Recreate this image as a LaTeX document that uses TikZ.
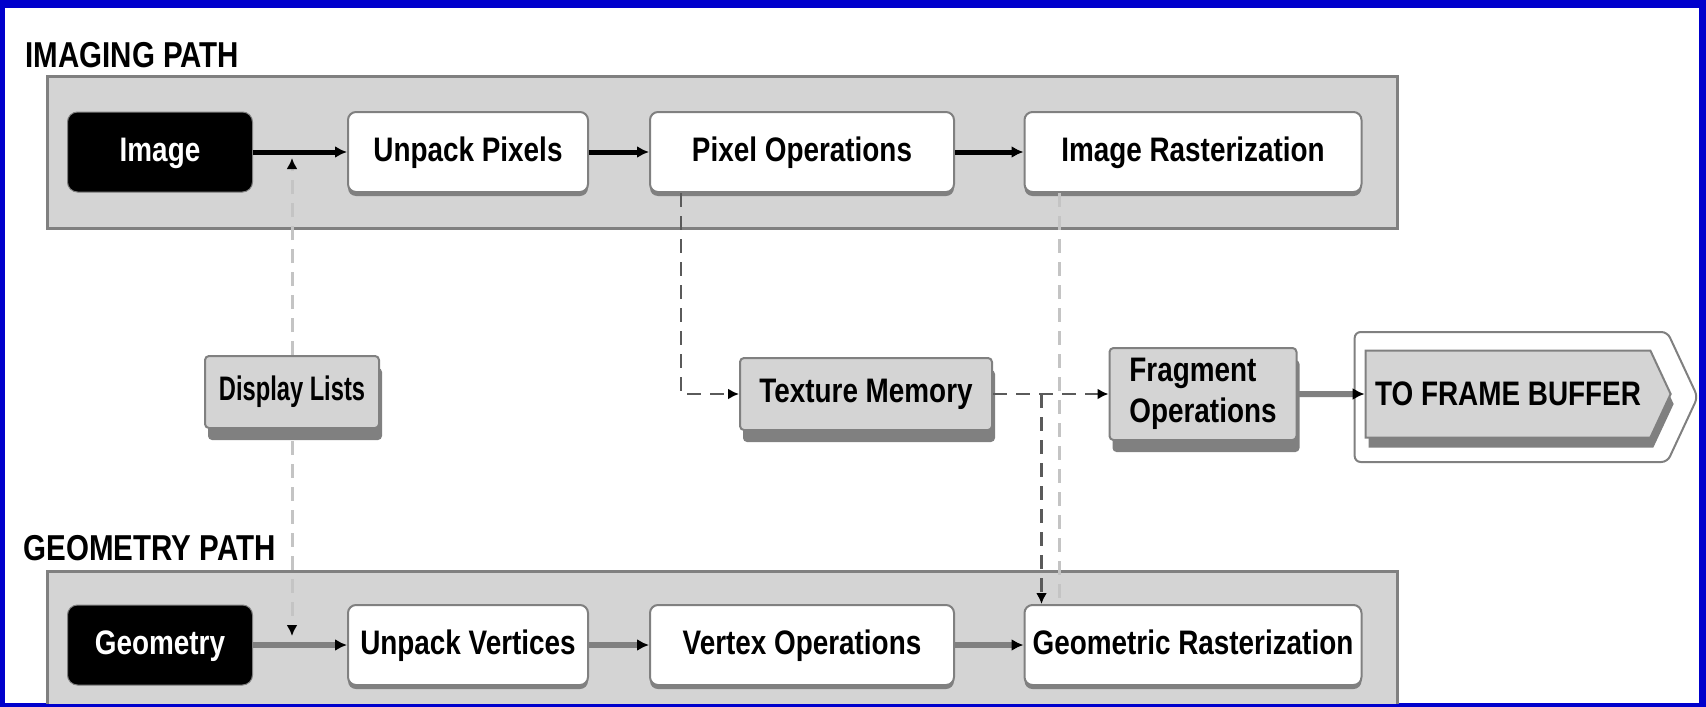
\documentclass[tikz,border=0pt]{standalone}
\usepackage{fontspec}
\setmainfont{Liberation Sans}[FakeStretch=0.82]
\usetikzlibrary{positioning,shapes.symbols,shadows,arrows.meta}
\definecolor{frameblue}{RGB}{0,0,204}
\definecolor{panelgray}{RGB}{212,212,212}
\definecolor{edgegray}{RGB}{128,128,128}
\definecolor{lightdash}{RGB}{196,196,196}
\definecolor{darkdash}{RGB}{90,90,90}
\tikzset{
  every node/.style={font=\fontsize{34}{41}\selectfont\bfseries},
  title/.style={anchor=base west,font=\fontsize{36}{40}\selectfont\bfseries},
  panel/.style={fill=panelgray,draw=edgegray,line width=3pt},
  source/.style={fill=black,text=white,draw=edgegray,line width=1pt,rounded corners=10pt,minimum width=185pt,minimum height=80pt,
    text height=25pt,text depth=7pt},
  stage/.style={fill=white,draw=edgegray,line width=2pt,rounded corners=8pt,minimum height=80pt,inner sep=4pt,
    text height=25pt,text depth=7pt,
    drop shadow={shadow xshift=0pt,shadow yshift=-4pt,fill=edgegray,opacity=1}},
  store/.style={fill=panelgray,draw=edgegray,line width=2pt,rounded corners=4pt,minimum height=72pt,inner sep=4pt,
    drop shadow={shadow xshift=3pt,shadow yshift=-12pt,fill=edgegray,opacity=1}},
  imgflow/.style={line width=5pt,-{Latex[length=12pt,width=12pt]}},
  geoflow/.style={line width=6pt,edgegray,-{Latex[black,length=12pt,width=12pt]}},
  datalink/.style={darkdash,line width=2.5pt,dash pattern=on 14pt off 9pt,-{Latex[black,length=11pt,width=11pt]}},
  listlink/.style={lightdash,line width=3pt,dash pattern=on 14pt off 9pt}
}
\begin{document}
\begin{tikzpicture}[yscale=-1,x=1pt,y=1pt]
\useasboundingbox (0,0) rectangle (1706,707);
\fill[frameblue] (0,0) rectangle (1706,707);
\begin{scope}
\clip (5,8) rectangle (1699,703);
\fill[white] (5,8) rectangle (1699,703);
% panels
\draw[panel] (47,76) rectangle (1397,228);
\draw[panel] (47,571) rectangle (1397,720);
\node[title] (imgtitle) at (22,67) {IMAGING PATH};
\node[title] (geotitle) at (20,560) {GEOMETRY PATH};
% imaging row
\node[source] (img) at (160,152) {Image};
\node[stage,minimum width=240pt] (upix) at (468,152) {Unpack Pixels};
\node[stage,minimum width=304pt] (pixop) at (802,152) {Pixel Operations};
\node[stage,minimum width=337pt] (imrast) at (1193,152) {Image Rasterization};
% geometry row
\node[source] (geo) at (160,645) {Geometry};
\node[stage,minimum width=240pt] (uvert) at (468,645) {Unpack Vertices};
\node[stage,minimum width=304pt] (vertop) at (802,645) {Vertex Operations};
\node[stage,minimum width=337pt] (georast) at (1193,645) {Geometric Rasterization};
% middle row
\node[store,minimum width=174pt] (dlist) at (292,392) {\scalebox{0.85}[1]{Display Lists}};
\node[store,minimum width=252pt] (texmem) at (866,394) {Texture Memory};
\node[store,minimum width=187pt,minimum height=92pt,align=left] (frag) at (1203,394) {Fragment\\Operations};
\node[signal,signal to=east,signal pointer angle=130,fill=white,draw=edgegray,line width=2pt,rounded corners=6pt,
  minimum width=343pt,minimum height=130pt] (fbout) at (1511,397) {};
\node[signal,signal to=east,signal pointer angle=130,fill=panelgray,draw=edgegray,line width=2pt,
  minimum width=305pt,minimum height=87pt,inner sep=4pt,
  drop shadow={shadow xshift=3pt,shadow yshift=-10pt,fill=edgegray,opacity=1}] (fb) at (1508,394) {TO FRAME BUFFER};
% flows
\draw[imgflow] (img) -- (upix);
\draw[imgflow] (upix) -- (pixop);
\draw[imgflow] (pixop) -- (imrast);
\draw[geoflow] (geo) -- (uvert);
\draw[geoflow] (uvert) -- (vertop);
\draw[geoflow] (vertop) -- (georast);
\draw[geoflow] (frag) -- (fb);
% dashed links
\draw[listlink,-{Latex[black,length=11pt,width=11pt]},shorten >=6pt] (dlist.north) -- (dlist.north |- img.east);
\draw[listlink,-{Latex[black,length=11pt,width=11pt]},shorten >=9pt] ([yshift=12pt]dlist.south) -- (dlist.south |- geo.east);
\coordinate (pixtap) at ([xshift=32pt]pixop.south west);
\draw[datalink] (pixtap) |- (texmem.west);
\draw[datalink] (texmem.east) -- (frag.west);
\coordinate (rastin) at ([xshift=18pt]georast.north west);
\draw[datalink] (rastin |- texmem.east) -- (rastin);
\coordinate (rastlink) at ([xshift=36pt]imrast.south west);
\draw[listlink] (rastlink) -- (rastlink |- georast.north);
\end{scope}
\end{tikzpicture}
\end{document}
